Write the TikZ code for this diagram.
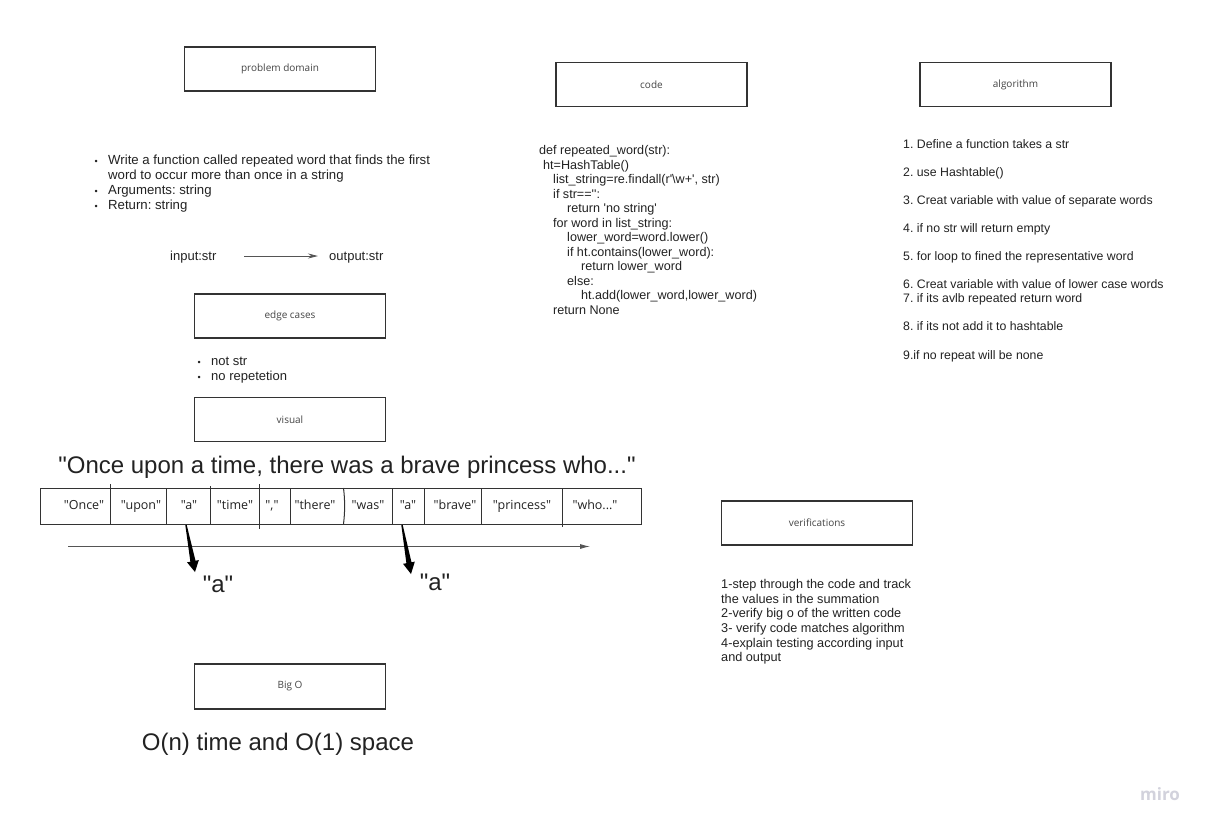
\documentclass[tikz,border=0pt]{standalone}
\usepackage{fontspec}
\newfontfamily\arial{Liberation Sans}
\newfontfamily\osans{Open Sans}
\usetikzlibrary{arrows.meta,calc}
\definecolor{txt}{HTML}{222222}
\definecolor{boxline}{HTML}{333333}
\definecolor{lbl}{HTML}{444444}
\definecolor{arr}{HTML}{555555}
\definecolor{miroc}{HTML}{D2D2DC}
\begin{document}
\frenchspacing
\begin{tikzpicture}[x=1pt,y=-1pt,
  box/.style={draw=boxline, line width=1.1pt, minimum width=191pt, minimum height=44pt, inner sep=0pt, font=\osans\fontsize{10}{12}\selectfont, text=lbl},
  tl/.style={anchor=base west, inner sep=0pt, font=\arial\fontsize{13}{15}\selectfont, text=txt},
  tlp/.style={tl, font=\arial\fontsize{13.2}{15}\selectfont},
  tlc/.style={tl, font=\arial\fontsize{12.6}{15}\selectfont},
  tla/.style={tl, font=\arial\fontsize{12.3}{15}\selectfont},
  tlv/.style={tl, font=\arial\fontsize{12.7}{15}\selectfont},
  bul/.style={anchor=base west, inner sep=0pt, font=\arial\fontsize{9}{10}\selectfont, text=txt},
  word/.style={anchor=base, inner sep=0pt, font=\osans\fontsize{12.5}{14}\selectfont, text=txt},
  big/.style={anchor=base, inner sep=0pt, font=\arial\fontsize{24}{28}\selectfont, text=txt},
  cell/.style={draw=boxline, line width=1pt},
  thinarrow/.style={draw=arr, line width=0.9pt},
]
\useasboundingbox (0,0) rectangle (1207,828);
\fill[white] (0,0) rectangle (1207,828);

% boxes
\node[box] (pd) at (280,69) {\raisebox{-1pt}{problem domain}};
\node[box] (code) at (651.5,84.5) {\raisebox{-1pt}{code}};
\node[box] (alg) at (1015.5,84.5) {\raisebox{-1pt}{algorithm}};
\node[box] (edge) at (290,316) {\raisebox{-1pt}{edge cases}};
\node[box] (vis) at (290,419.5) {\raisebox{-1pt}{visual}};
\node[box] (ver) at (817,523) {\raisebox{-1pt}{verifications}};
\node[box, minimum height=45pt] (bigo) at (290,686.5) {\raisebox{-1pt}{Big O}};

% problem domain text
\node[bul] (b1) at (94.5,164.7) {\textbullet};
\node[bul] (b2) at (94.5,194.7) {\textbullet};
\node[bul] (b3) at (94.5,209.7) {\textbullet};
\node[tlp] (p1) at (108,164.7) {Write a function called repeated word that finds the first};
\node[tlp] (p2) at (108,179.7) {word to occur more than once in a string};
\node[tlp] (p3) at (108,194.7) {Arguments: string};
\node[tlp] (p4) at (108,209.7) {Return: string};

% input / output
\node[tl] (in) at (170,260.7) {input:str};
\node[tl] (out) at (329,260.7) {output:str};
\coordinate (ia) at (244,256);
\coordinate (ib) at (318,256);
\draw[thinarrow, -{Stealth[length=10pt,width=5pt]}] (ia) -- (ib);

% edge cases
\node[bul] (b4) at (197.5,365.7) {\textbullet};
\node[bul] (b5) at (197.5,380.7) {\textbullet};
\node[tl] (e1) at (211,365.7) {not str};
\node[tl] (e2) at (211,380.7) {no repetetion};

% code
\node[tlc] (c1) at (539,154.7) {def repeated\_word(str):};
\node[tlc] (c2) at (543,169.2) {ht=HashTable()};
\node[tlc] (c3) at (553,183.7) {list\_string=re.findall(r'\textbackslash w+', str)};
\node[tlc] (c4) at (553,198.2) {if str=='':};
\node[tlc] (c5) at (567,212.7) {return 'no string'};
\node[tlc] (c6) at (553,227.2) {for word in list\_string:};
\node[tlc] (c7) at (567,241.7) {lower\_word=word.lower()};
\node[tlc] (c8) at (567,256.2) {if ht.contains(lower\_word):};
\node[tlc] (c9) at (581,270.7) {return lower\_word};
\node[tlc] (c10) at (567,285.2) {else:};
\node[tlc] (c11) at (581,299.7) {ht.add(lower\_word,lower\_word)};
\node[tlc] (c12) at (553,314.2) {return None};

% algorithm
\node[tla] (a1) at (903,148.7) {1. Define a function takes a str};
\node[tla] (a2) at (903,176.7) {2. use Hashtable()};
\node[tla] (a3) at (903,204.7) {3. Creat variable with value of separate words};
\node[tla] (a4) at (903,232.7) {4. if no str will return empty};
\node[tla] (a5) at (903,260.7) {5. for loop to fined the representative word};
\node[tla] (a6) at (903,288.7) {6. Creat variable with value of lower case words};
\node[tla] (a7) at (903,302.7) {7. if its avlb repeated return word};
\node[tla] (a8) at (903,330.7) {8. if its not add it to hashtable};
\node[tla] (a9) at (903,359.7) {9.if no repeat will be none};

% verifications
\node[tlv] (v1) at (721,588.7) {1-step through the code and track};
\node[tlv] (v2) at (721,603.3) {the values in the summation};
\node[tlv] (v3) at (721,617.9) {2-verify big o of the written code};
\node[tlv] (v4) at (721,632.5) {3- verify code matches algorithm};
\node[tlv] (v5) at (721,647.1) {4-explain testing according input};
\node[tlv] (v6) at (721,661.7) {and output};

% visual
\node[big] (sent) at (347,473.5) {"Once upon a time, there was a brave princess who..."};
\draw[cell] (40,488) rectangle (641,524);
\draw[cell] (110,484) -- (110,524);
\draw[cell] (166,488) -- (166,524);
\draw[cell] (210,486) -- (210,524);
\draw[cell] (259,484) -- (259,529);
\draw[cell] (290,488) -- (290,524);
\draw[cell] (343.5,488) .. controls (345,500) and (345,512) .. (343.5,524);
\draw[cell] (392,488) -- (392,524);
\draw[cell] (424,488) -- (424,524);
\draw[cell] (481.5,488) -- (481.5,524);
\draw[cell] (562,488) -- (562,527);
\node[word] (w1) at (84,509.5) {"Once"};
\node[word] (w2) at (141,509.5) {"upon"};
\node[word] (w3) at (189,509.5) {"a"};
\node[word] (w4) at (235,509.5) {"time"};
\node[word] (w5) at (272,509.5) {","};
\node[word] (w6) at (315,509.5) {"there"};
\node[word] (w7) at (368,509.5) {"was"};
\node[word] (w8) at (408,509.5) {"a"};
\node[word] (w9) at (455,509.5) {"brave"};
\node[word] (w10) at (522,509.5) {"princess"};
\node[word] (w11) at (595,509.5) {"who..."};

\coordinate (la) at (68,546.5);
\coordinate (lb) at (590,546.5);
\draw[thinarrow, -{Latex[length=10pt,width=5pt]}] (la) -- (lb);

\node[big] (ra1) at (218,592.5) {"a"};
\node[big] (ra2) at (435,590.5) {"a"};

\coordinate (s1) at (186,525);
\coordinate (t1) at (195,572);
\coordinate (p1) at ($(s1)!0.77!(t1)$);
\fill[black] ($(s1)!0.7pt!90:(t1)$) -- ($(p1)!2.6pt!90:(t1)$) -- ($(p1)!6pt!90:(t1)$) -- (t1) -- ($(p1)!6pt!-90:(t1)$) -- ($(p1)!2.6pt!-90:(t1)$) -- ($(s1)!0.7pt!-90:(t1)$) -- cycle;
\coordinate (s2) at (402,525);
\coordinate (t2) at (411,574);
\coordinate (p2) at ($(s2)!0.77!(t2)$);
\fill[black] ($(s2)!0.7pt!90:(t2)$) -- ($(p2)!2.6pt!90:(t2)$) -- ($(p2)!6pt!90:(t2)$) -- (t2) -- ($(p2)!6pt!-90:(t2)$) -- ($(p2)!2.6pt!-90:(t2)$) -- ($(s2)!0.7pt!-90:(t2)$) -- cycle;

% big O
\node[big] (on) at (278,750.5) {O(n) time and O(1) space};

\node[font=\osans\bfseries\fontsize{17}{19}\selectfont, text=miroc, inner sep=0pt] (miro) at (1160,794) {miro};
\end{tikzpicture}
\end{document}
